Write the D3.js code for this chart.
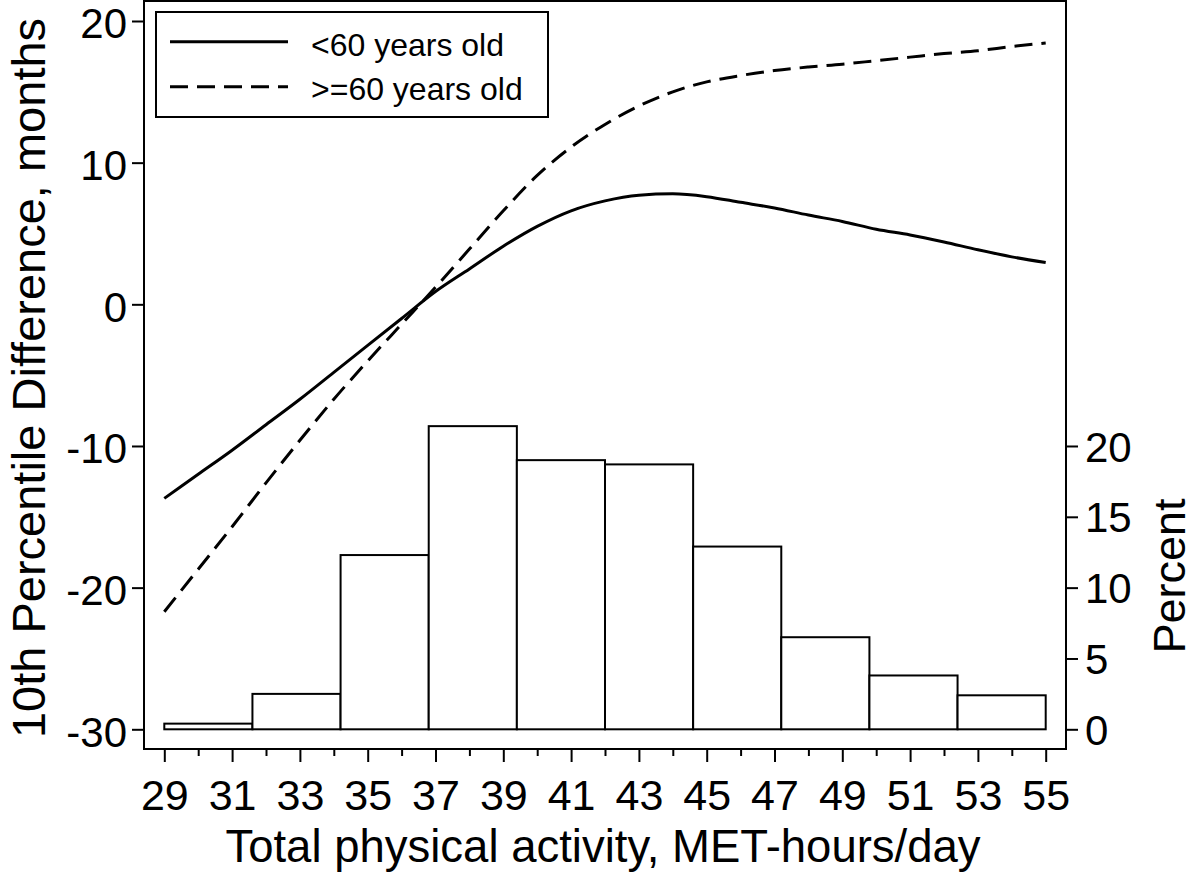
<!DOCTYPE html>
<html>
<head>
<meta charset="utf-8">
<script src="https://cdn.jsdelivr.net/npm/d3@7"></script>
<style>
  html, body { margin: 0; padding: 0; background: #fff; }
  svg { display: block; font-family: "Liberation Sans", Arial, Helvetica, sans-serif; }
</style>
</head>
<body>
<svg id="chart" width="1200" height="875"></svg>
<script>
// ---------- DATA ----------
const activity = [29,30,31,32,33,34,35,36,37,38,39,40,41,42,43,44,45,46,47,48,49,50,51,52,53,54,55];
const under60 = [-13.7,-12.0,-10.3,-8.5,-6.7,-4.8,-2.9,-1.0,0.9,2.5,4.1,5.5,6.6,7.3,7.7,7.8,7.6,7.2,6.8,6.3,5.85,5.3,4.9,4.4,3.85,3.35,2.95];
const over60  = [-21.7,-18.7,-15.7,-12.6,-9.6,-6.7,-4.0,-1.4,1.2,3.9,6.6,9.1,11.1,12.7,14.0,15.0,15.7,16.15,16.5,16.75,16.95,17.2,17.45,17.7,17.9,18.2,18.45];
const binEdges = [29, 31.6, 34.2, 36.8, 39.4, 42, 44.6, 47.2, 49.8, 52.4, 55];
const binPercent = [0.4, 2.5, 12.3, 21.4, 19.0, 18.7, 12.9, 6.5, 3.8, 2.4];
const xTickValues = [29,31,33,35,37,39,41,43,45,47,49,51,53,55];
const xMinorTickValues = [30,32,34,36,38,40,42,44,46,48,50,52,54];
const yLeftTickValues = [-30,-20,-10,0,10,20];
const yRightTickValues = [0,5,10,15,20];
const seriesNames = ["<60 years old", ">=60 years old"];
const xTitle = "Total physical activity, MET-hours/day";
const yLeftTitle = "10th Percentile Difference, months";
const yRightTitle = "Percent";

// ---------- LAYOUT ----------
const frame = {left: 144, right: 1066, top: 1, bottom: 749};
const svg = d3.select("#chart");

const x = d3.scaleLinear().domain([29, 55]).range([164.3, 1045.7]);
const yL = d3.scaleLinear().domain([-30, 20]).range([729.3, 21]);
const yR = d3.scaleLinear().domain([0, 50]).range([729.3, 21]);

// ---------- HISTOGRAM ----------
const bins = binPercent.map((p, i) => ({x0: binEdges[i], x1: binEdges[i+1], p}));
svg.append("g").selectAll("rect").data(bins).join("rect")
  .attr("x", d => x(d.x0))
  .attr("y", d => yR(d.p))
  .attr("width", d => x(d.x1) - x(d.x0))
  .attr("height", d => yR(0) - yR(d.p))
  .attr("fill", "#fff")
  .attr("stroke", "#000")
  .attr("stroke-width", 2);

// ---------- CURVES ----------
const line = d3.line().x(d => x(d[0])).y(d => yL(d[1])).curve(d3.curveMonotoneX);
const solidData = activity.map((a, i) => [a, under60[i]]);
const dashData = activity.map((a, i) => [a, over60[i]]);
svg.append("path").datum(solidData).attr("d", line)
  .attr("fill", "none").attr("stroke", "#000").attr("stroke-width", 3);
svg.append("path").datum(dashData).attr("d", line)
  .attr("fill", "none").attr("stroke", "#000").attr("stroke-width", 3)
  .attr("stroke-dasharray", "18,9");

// ---------- FRAME ----------
svg.append("rect")
  .attr("x", frame.left).attr("y", frame.top)
  .attr("width", frame.right - frame.left).attr("height", frame.bottom - frame.top)
  .attr("fill", "none").attr("stroke", "#000").attr("stroke-width", 2);

// ---------- AXES ----------
function styleAxis(g, fs) {
  g.select(".domain").remove();
  g.selectAll(".tick line").attr("stroke", "#000").attr("stroke-width", 2);
  g.selectAll(".tick text").attr("fill", "#000").attr("font-size", fs)
    .attr("font-family", "Liberation Sans, Arial, sans-serif");
}
// Bottom
const gx = svg.append("g").attr("transform", `translate(0,${frame.bottom})`)
  .call(d3.axisBottom(x).tickValues(xTickValues).tickFormat(d3.format("d")).tickSize(13).tickPadding(17));
styleAxis(gx, 43);
svg.append("g").attr("transform", `translate(0,${frame.bottom})`)
  .call(d3.axisBottom(x).tickValues(xMinorTickValues).tickFormat("").tickSize(7))
  .call(g => styleAxis(g, 10));

// Left
const gyl = svg.append("g").attr("transform", `translate(${frame.left},0)`)
  .call(d3.axisLeft(yL).tickValues(yLeftTickValues).tickFormat(d3.format("d")).tickSize(12).tickPadding(5));
styleAxis(gyl, 42);
gyl.selectAll(".tick text").attr("dy", "0.4em").text(d => d < 0 ? "-" + Math.abs(d) : d);

// Right
const gyr = svg.append("g").attr("transform", `translate(${frame.right},0)`)
  .call(d3.axisRight(yR).tickValues(yRightTickValues).tickFormat(d3.format("d")).tickSize(12).tickPadding(7));
styleAxis(gyr, 42);
gyr.selectAll(".tick text").attr("dy", "0.36em");

// ---------- TITLES ----------
svg.append("text").attr("x", 603).attr("y", 862).attr("text-anchor", "middle")
  .attr("font-size", 45.5).text(xTitle);
svg.append("text").attr("transform", "translate(45,378) rotate(-90)").attr("text-anchor", "middle")
  .attr("font-size", 47).text(yLeftTitle);
svg.append("text").attr("transform", "translate(1185,576) rotate(-90)").attr("text-anchor", "middle")
  .attr("font-size", 45).text(yRightTitle);

// ---------- LEGEND ----------
const legend = svg.append("g");
legend.append("rect").attr("x", 156).attr("y", 12).attr("width", 392).attr("height", 105)
  .attr("fill", "#fff").attr("stroke", "#000").attr("stroke-width", 2);
const legendRows = [
  {name: seriesNames[0], dash: null, ly: 41.7, ty: 55.5},
  {name: seriesNames[1], dash: "18,9", ly: 86.7, ty: 99.5}
];
legendRows.forEach(r => {
  legend.append("line").attr("x1", 170).attr("x2", 288).attr("y1", r.ly).attr("y2", r.ly)
    .attr("stroke", "#000").attr("stroke-width", 3).attr("stroke-dasharray", r.dash);
  legend.append("text").attr("x", 311).attr("y", r.ty).attr("font-size", 32).text(r.name);
});
</script>
</body>
</html>
